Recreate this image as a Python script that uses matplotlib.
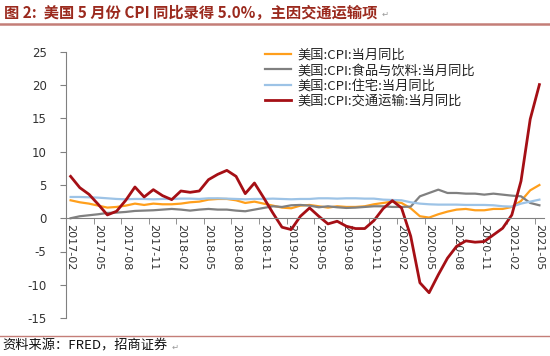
import matplotlib
matplotlib.use("Agg")
import matplotlib.pyplot as plt
import numpy as np
from matplotlib.lines import Line2D

plt.rcParams['font.family'] = ['Noto Sans CJK SC', 'DejaVu Sans']

# ---- data (monthly, 2017-02 .. 2021-05) ----
months = [f"{y}-{m:02d}" for y in range(2017, 2022) for m in range(1, 13)]
months = months[1:months.index("2021-05") + 1]

cpi_all = [2.7, 2.4, 2.2, 1.9, 1.6, 1.7, 1.9, 2.2, 2.0, 2.2, 2.1,
           2.1, 2.2, 2.4, 2.5, 2.8, 2.9, 2.9, 2.7, 2.3, 2.5, 2.2, 1.9,
           1.6, 1.5, 1.9, 2.0, 1.8, 1.6, 1.8, 1.7, 1.7, 1.8, 2.1, 2.3,
           2.5, 2.3, 1.5, 0.3, 0.1, 0.6, 1.0, 1.3, 1.4, 1.2, 1.2, 1.4,
           1.4, 1.7, 2.6, 4.2, 5.0]

cpi_food = [0.0, 0.3, 0.45, 0.6, 0.8, 0.85, 0.95, 1.1, 1.15, 1.2, 1.3,
            1.4, 1.3, 1.15, 1.3, 1.4, 1.3, 1.3, 1.15, 1.05, 1.3, 1.55, 1.8,
            1.7, 1.95, 2.0, 1.9, 1.65, 1.8, 1.65, 1.55, 1.6, 1.7, 1.8, 1.8,
            1.7, 1.7, 1.75, 3.3, 3.8, 4.3, 3.8, 3.8, 3.7, 3.7, 3.55, 3.7,
            3.55, 3.4, 3.3, 2.3, 1.95]

cpi_housing = [3.2, 3.2, 3.15, 3.1, 3.0, 2.9, 2.85, 2.9, 2.9, 2.85, 2.9,
               2.9, 2.95, 2.95, 2.9, 3.0, 3.0, 2.95, 2.9, 2.85, 2.9, 2.9, 2.95,
               2.9, 2.85, 2.9, 2.9, 3.0, 3.0, 2.95, 3.0, 3.0, 2.95, 2.95, 2.8,
               2.75, 2.7, 2.4, 2.2, 2.1, 2.05, 2.05, 2.05, 2.0, 2.0, 2.0, 1.95,
               1.8, 1.75, 2.2, 2.5, 2.8]

cpi_transport = [6.3, 4.6, 3.6, 2.1, 0.5, 1.05, 2.7, 4.7, 3.2, 4.3, 3.4,
                 2.8, 4.1, 3.9, 4.1, 5.8, 6.6, 7.2, 6.3, 3.7, 5.3, 3.1, 0.8,
                 -1.35, -1.7, 0.3, 1.55, 0.3, -0.85, -0.45, -1.2, -1.55, -1.55, -0.35, 1.45,
                 2.65, 1.55, -2.7, -9.7, -11.2, -8.5, -6.0, -4.2, -3.4, -3.6, -3.5, -2.5,
                 -1.5, 0.5, 5.6, 14.9, 20.1]

labels = ["美国:CPI:当月同比", "美国:CPI:食品与饮料:当月同比",
          "美国:CPI:住宅:当月同比", "美国:CPI:交通运输:当月同比"]
colors = ["#FF9F1C", "#808080", "#9DC3E6", "#A50F15"]
yticks = [-15, -10, -5, 0, 5, 10, 15, 20, 25]

W, H = 550, 356
fig = plt.figure(figsize=(W / 100, H / 100), dpi=100)
ax = fig.add_axes([66 / W, (H - 318) / H, (544 - 66) / W, (318 - 52) / H])

x = np.arange(len(months))
series = [cpi_all, cpi_food, cpi_housing, cpi_transport]
widths = [1.6, 1.6, 1.6, 2.0]
for s, c, lw, lab in zip(series, colors, widths, labels):
    ax.plot(x, s, color=c, lw=lw, label=lab, solid_joinstyle='round')

ax.set_xlim(-0.5, len(months) - 0.5)
ax.set_ylim(-15, 25)
ax.set_yticks(yticks)
ax.set_yticklabels([str(v) for v in yticks], family='DejaVu Sans', fontsize=8.5, color='#333333')

ax.spines['top'].set_visible(False)
ax.spines['right'].set_visible(False)
ax.spines['bottom'].set_position(('data', 0))
ax.spines['left'].set_color('#808080')
ax.spines['bottom'].set_color('#808080')
ax.tick_params(axis='y', direction='out', length=4, color='#808080', pad=10)

tick_idx = list(range(0, len(months), 3))
ax.set_xticks(tick_idx)
ax.set_xticklabels([months[i] for i in tick_idx], rotation=-90, family='DejaVu Sans',
                   fontsize=8, color='#333333', va='top', ha='center')
ax.tick_params(axis='x', which='major', length=0, pad=4)
ax.set_xticks([i - 0.5 for i in tick_idx], minor=True)
ax.tick_params(axis='x', which='minor', direction='out', length=4, color='#808080')

leg = ax.legend(loc='upper left', bbox_to_anchor=(265 / W, 1 - 49 / H),
                bbox_transform=fig.transFigure, frameon=False, fontsize=9.5,
                handlelength=2.0, handletextpad=0.45, labelspacing=0.16,
                borderaxespad=0, borderpad=0)
for t in leg.get_texts():
    t.set_color('#222222')

# header / footer
fig.text(4 / W, 1 - 13 / H, "图 2:  美国 5 月份 CPI 同比录得 5.0%，主因交通运输项",
         fontsize=11, fontweight='bold', color='#9B2A1E', va='center', ha='left')
fig.text(382 / W, 1 - 14 / H, "↵", fontsize=6, color='#999999', va='center', ha='left',
         family=['DejaVu Sans'])
fig.add_artist(Line2D([0, 1], [1 - 24 / H, 1 - 24 / H], transform=fig.transFigure,
                      color='#C47E78', lw=1.8))
fig.add_artist(Line2D([0, 1], [1 - 336 / H, 1 - 336 / H], transform=fig.transFigure,
                      color='#C47E78', lw=1.0))
fig.text(2 / W, 1 - 346 / H, "资料来源：FRED，招商证券", fontsize=9.5, color='#111111',
         va='center', ha='left')
fig.text(172 / W, 1 - 347 / H, "↵", fontsize=6, color='#999999', va='center', ha='left',
         family=['DejaVu Sans'])

fig.savefig("out.png", dpi=100)
